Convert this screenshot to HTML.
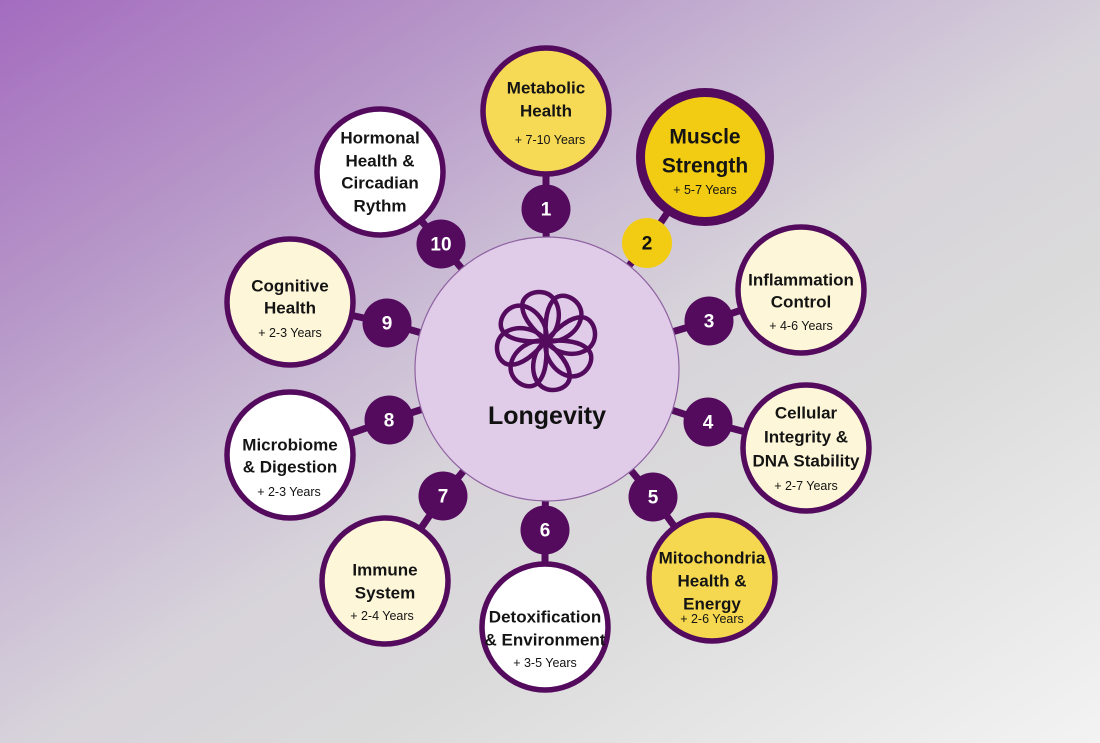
<!DOCTYPE html>
<html><head><meta charset="utf-8"><style>
html,body{margin:0;padding:0;width:1100px;height:743px;overflow:hidden;}
body{background:linear-gradient(147deg,#a46cbf 0%,#b696c8 22%,#cbbdd5 40%,#d7d3da 52%,#dbdbdb 68%,#f3f3f3 100%);}
svg{position:absolute;left:0;top:0;}
.t{font-family:"Liberation Sans",sans-serif;font-weight:bold;font-size:17px;fill:#141414;text-anchor:middle;dominant-baseline:central;}
.y{font-family:"Liberation Sans",sans-serif;font-size:12.5px;fill:#141414;text-anchor:middle;dominant-baseline:central;}
.n{font-family:"Liberation Sans",sans-serif;font-weight:bold;font-size:19px;fill:#fff;text-anchor:middle;dominant-baseline:central;}
</style></head><body>
<svg width="1100" height="743" viewBox="0 0 1100 743">
<g stroke="#540b5e" stroke-width="7" fill="none">
<polyline points="547,369 546,209 546,111"/>
<polyline points="547,369 647,243 705,157"/>
<polyline points="547,369 709,321 801,290"/>
<polyline points="547,369 708,422 806,448"/>
<polyline points="547,369 653,497 712,578"/>
<polyline points="547,369 545,530 545,627"/>
<polyline points="547,369 443,496 385,581"/>
<polyline points="547,369 389,420 290,455"/>
<polyline points="547,369 387,323 290,302"/>
<polyline points="547,369 441,244 380,172"/>
</g>
<circle cx="547" cy="369" r="132" fill="#e0cce9" stroke="#8e62a0" stroke-width="1.2"/>
<g transform="translate(546,341)" stroke="#540b5e" stroke-width="4.5" fill="none" stroke-linejoin="round">
<path id="pt" d="M0,0 C 14,-6 22,-26 15,-40 C 8,-54 -14,-52 -17,-40 C -20,-28 -10,-12 0,0 Z" transform="rotate(-10)"/>
<use href="#pt" transform="rotate(45)"/>
<use href="#pt" transform="rotate(90)"/>
<use href="#pt" transform="rotate(135)"/>
<use href="#pt" transform="rotate(180)"/>
<use href="#pt" transform="rotate(225)"/>
<use href="#pt" transform="rotate(270)"/>
<use href="#pt" transform="rotate(315)"/>
</g>
<text x="547" y="416" class="t" style="font-size:25px;fill:#111">Longevity</text>

<g stroke="#540b5e" stroke-width="5.5">
<circle cx="546" cy="111" r="63" fill="#f6d955"/>
<circle cx="380" cy="172" r="63" fill="#ffffff"/>
<circle cx="801" cy="290" r="63" fill="#fdf6d8"/>
<circle cx="806" cy="448" r="63" fill="#fdf6d8"/>
<circle cx="712" cy="578" r="63" fill="#f5d84f"/>
<circle cx="545" cy="627" r="63" fill="#ffffff"/>
<circle cx="385" cy="581" r="63" fill="#fdf6d8"/>
<circle cx="290" cy="455" r="63" fill="#ffffff"/>
<circle cx="290" cy="302" r="63" fill="#fdf6d8"/>
</g>
<circle cx="705" cy="157" r="64.5" fill="#f2cb13" stroke="#540b5e" stroke-width="9"/>

<g fill="#540b5e">
<circle cx="546" cy="209" r="24.5"/>
<circle cx="709" cy="321" r="24.5"/>
<circle cx="708" cy="422" r="24.5"/>
<circle cx="653" cy="497" r="24.5"/>
<circle cx="545" cy="530" r="24.5"/>
<circle cx="443" cy="496" r="24.5"/>
<circle cx="389" cy="420" r="24.5"/>
<circle cx="387" cy="323" r="24.5"/>
<circle cx="441" cy="244" r="24.5"/>
</g>
<circle cx="647" cy="243" r="25" fill="#f2cc12"/>
<text class="n" x="546" y="210">1</text>
<text class="n" x="647" y="244" style="fill:#111">2</text>
<text class="n" x="709" y="322">3</text>
<text class="n" x="708" y="423">4</text>
<text class="n" x="653" y="498">5</text>
<text class="n" x="545" y="531">6</text>
<text class="n" x="443" y="497">7</text>
<text class="n" x="389" y="421">8</text>
<text class="n" x="387" y="324">9</text>
<text class="n" x="441" y="245">10</text>

<text class="t" x="546" y="88">Metabolic</text>
<text class="t" x="546" y="111">Health</text>
<text class="y" x="550" y="140">+ 7-10 Years</text>

<text class="t" x="705" y="137" style="font-size:21px">Muscle</text>
<text class="t" x="705" y="166" style="font-size:21px">Strength</text>
<text class="y" x="705" y="190">+ 5-7 Years</text>

<text class="t" x="380" y="138">Hormonal</text>
<text class="t" x="380" y="161">Health &amp;</text>
<text class="t" x="380" y="183">Circadian</text>
<text class="t" x="380" y="206">Rythm</text>

<text class="t" x="801" y="280">Inflammation</text>
<text class="t" x="801" y="302">Control</text>
<text class="y" x="801" y="326">+ 4-6 Years</text>

<text class="t" x="806" y="413">Cellular</text>
<text class="t" x="806" y="437">Integrity &amp;</text>
<text class="t" x="806" y="461">DNA Stability</text>
<text class="y" x="806" y="486">+ 2-7 Years</text>

<text class="t" x="712" y="558">Mitochondria</text>
<text class="t" x="712" y="581">Health &amp;</text>
<text class="t" x="712" y="604">Energy</text>
<text class="y" x="712" y="619">+ 2-6 Years</text>

<text class="t" x="545" y="617">Detoxification</text>
<text class="t" x="545" y="640">&amp; Environment</text>
<text class="y" x="545" y="663">+ 3-5 Years</text>

<text class="t" x="385" y="570">Immune</text>
<text class="t" x="385" y="593">System</text>
<text class="y" x="382" y="616">+ 2-4 Years</text>

<text class="t" x="290" y="445">Microbiome</text>
<text class="t" x="290" y="467">&amp; Digestion</text>
<text class="y" x="289" y="492">+ 2-3 Years</text>

<text class="t" x="290" y="286">Cognitive</text>
<text class="t" x="290" y="308">Health</text>
<text class="y" x="290" y="333">+ 2-3 Years</text>
</svg>
</body></html>
